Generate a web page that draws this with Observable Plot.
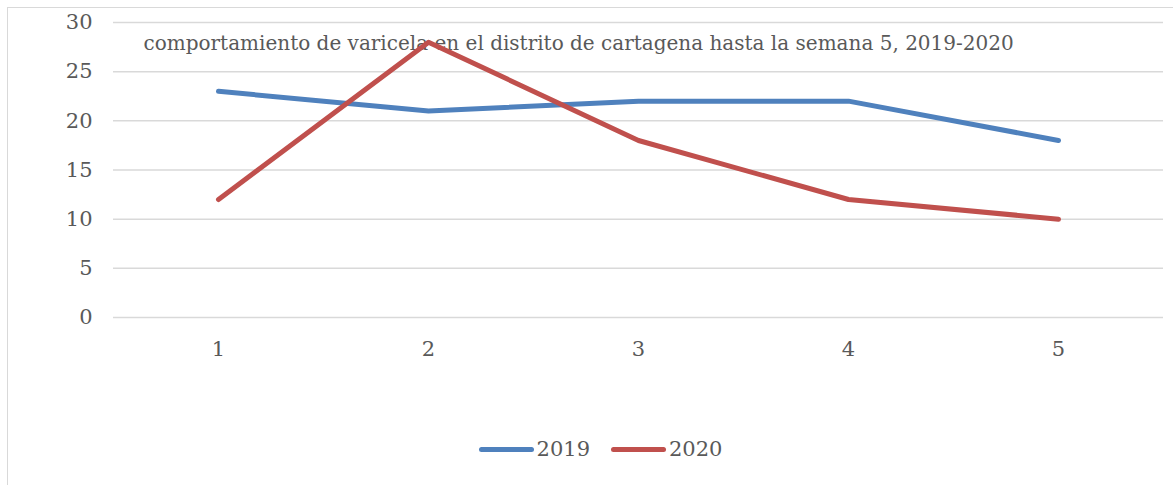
<!DOCTYPE html>
<html>
<head>
<meta charset="utf-8">
<script src="https://cdn.jsdelivr.net/npm/d3@7"></script>
<script src="https://cdn.jsdelivr.net/npm/@observablehq/plot@0.6"></script>
<style>
  body { margin: 0; background: #fff; }
  #wrap { position: relative; width: 1173px; height: 485px; overflow: hidden; font-family: "DejaVu Serif", serif; color: #595959; }
  #border { position: absolute; left: 7px; top: 7px; right: -2px; bottom: -2px; border-left: 1.5px solid #d9d9d9; border-top: 1.5px solid #d9d9d9; }
  #chart { position: absolute; left: 0; top: 0; }
  #legend { position: absolute; top: 437px; left: 0; width: 1173px; box-sizing: border-box; padding-left: 28px; display: flex; justify-content: center; gap: 21px; font-size: 21px; }
  .item { display: flex; align-items: center; gap: 3px; }
  .sw { width: 55px; height: 5px; border-radius: 3px; }
</style>
</head>
<body>
<div id="wrap">
  <div id="border"></div>
  <div id="chart"></div>
  <div id="legend"></div>
</div>
<script>
const weeks = [1, 2, 3, 4, 5];
const cases2019 = [23, 21, 22, 22, 18];
const cases2020 = [12, 28, 18, 12, 10];
const seriesNames = ["2019", "2020"];
const seriesColors = ["#4f81bd", "#c0504d"];
const yTicks = [0, 5, 10, 15, 20, 25, 30];
const title = "comportamiento de varicela en el distrito de cartagena hasta la semana 5, 2019-2020";

const rows = [];
weeks.forEach((w, i) => {
  rows.push({week: w, value: cases2019[i], serie: seriesNames[0]});
  rows.push({week: w, value: cases2020[i], serie: seriesNames[1]});
});

const plot = Plot.plot({
  width: 1173,
  height: 410,
  marginLeft: 113,
  marginRight: 10,
  marginTop: 22,
  marginBottom: 93,
  style: {fontFamily: "DejaVu Serif, serif", fontSize: "20px", color: "#595959", background: "transparent"},
  x: {type: "point", domain: weeks, padding: 0.5, label: null},
  y: {domain: [0, 30], ticks: yTicks, label: null},
  color: {domain: seriesNames, range: seriesColors},
  marks: [
    Plot.gridY(yTicks, {stroke: "#d9d9d9", strokeOpacity: 1, strokeWidth: 1.5}),
    Plot.axisY(yTicks, {tickSize: 0, tickPadding: 21, fill: "#595959", fontSize: 21}),
    Plot.axisX(weeks, {tickSize: 0, tickPadding: 24, fill: "#595959", fontSize: 21}),
    Plot.text([title], {frameAnchor: "top-left", dx: 30, dy: 13, fill: "#595959", fontSize: 20, textAnchor: "start"}),
    Plot.line(rows, {x: "week", y: "value", z: "serie", stroke: "serie", strokeWidth: 5, strokeLinecap: "round", strokeLinejoin: "round"})
  ]
});
document.getElementById("chart").appendChild(plot);

const legend = document.getElementById("legend");
seriesNames.forEach((s, i) => {
  const it = document.createElement("div");
  it.className = "item";
  const sw = document.createElement("div");
  sw.className = "sw";
  sw.style.background = seriesColors[i];
  const t = document.createElement("span");
  t.textContent = s;
  it.appendChild(sw);
  it.appendChild(t);
  legend.appendChild(it);
});
</script>
</body>
</html>
